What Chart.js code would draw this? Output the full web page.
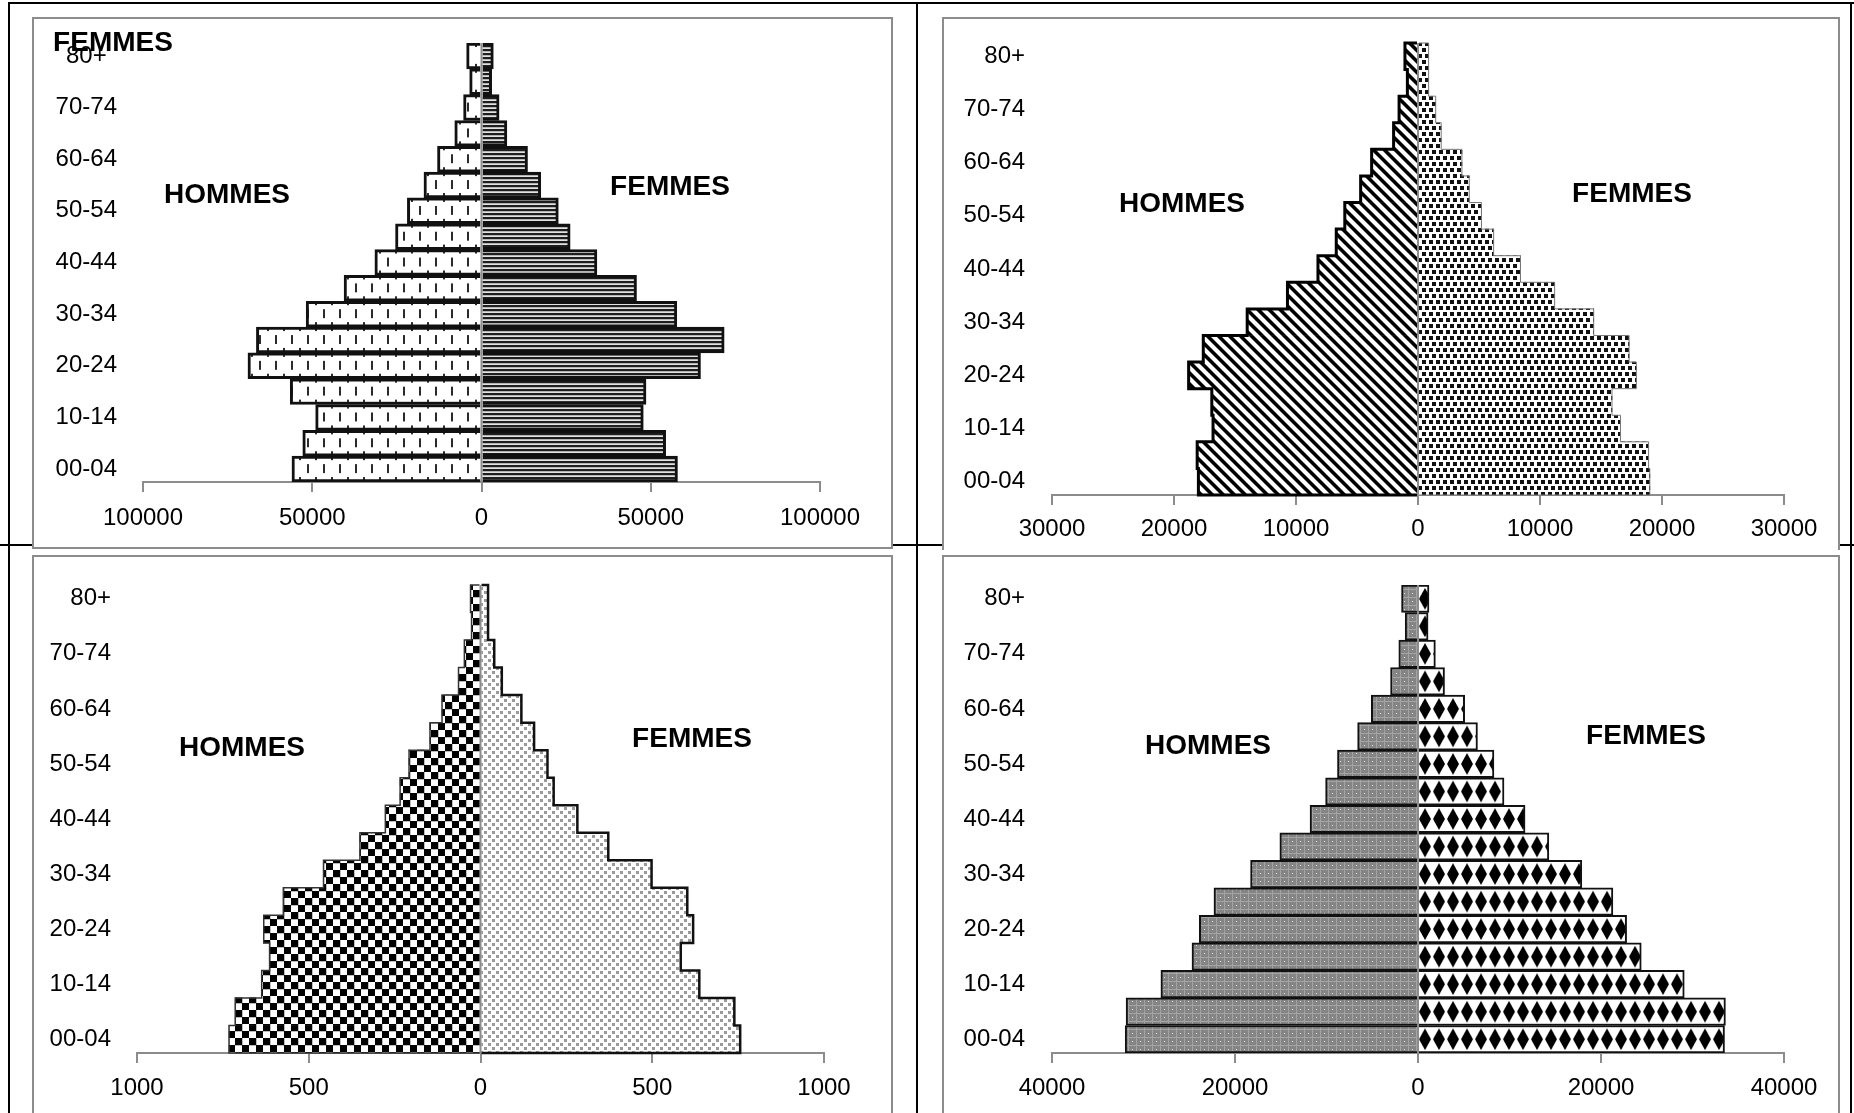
<!DOCTYPE html>
<html>
<head>
<meta charset="utf-8">
<script src="https://cdn.jsdelivr.net/npm/chart.js@4.4.1/dist/chart.umd.min.js"></script>
<style>
  body { margin: 0; background: #fff; }
  #page { position: relative; width: 1854px; height: 1113px; overflow: hidden; background: #fff; }
  .rule { position: absolute; background: #000; }
  .box { position: absolute; box-sizing: border-box; background: #fff; border: 0 solid #8c8c8c; }
  canvas { position: absolute; }
  .lbl { position: absolute; transform: translate(-50%, -50%); font: bold 28px 'Liberation Sans', Arial, sans-serif; color: #000; white-space: nowrap; z-index: 5; }
</style>
</head>
<body>
<div id="page">
  <!-- table rules -->
  <div class="rule" style="left:8px;top:2px;width:1846px;height:2px"></div>
  <div class="rule" style="left:8px;top:2px;width:2px;height:1111px"></div>
  <div class="rule" style="left:916px;top:2px;width:2px;height:1111px"></div>
  <div class="rule" style="left:1850px;top:2px;width:2px;height:1111px"></div>
  <div class="rule" style="left:0;top:544px;width:1854px;height:2px"></div>

  <!-- chart frames -->
  <div class="box" style="left:32px;top:17px;width:861px;height:532px;border-width:2px"></div>
  <div class="box" style="left:942px;top:17px;width:898px;height:533px;border-width:2px 2px 0 2px"></div>
  <div class="box" style="left:32px;top:555px;width:861px;height:558px;border-width:2px 2px 0 2px"></div>
  <div class="box" style="left:942px;top:555px;width:898px;height:558px;border-width:2px 2px 0 2px"></div>

  <canvas id="pyr1" width="861" height="532" style="left:32px;top:17px"></canvas>
  <canvas id="pyr2" width="896" height="528" style="left:942px;top:17px"></canvas>
  <canvas id="pyr3" width="861" height="558" style="left:32px;top:555px"></canvas>
  <canvas id="pyr4" width="896" height="558" style="left:942px;top:555px"></canvas>

  <div class="lbl" style="left:113px;top:42px">FEMMES</div>
  <div class="lbl" style="left:227px;top:194px">HOMMES</div>
  <div class="lbl" style="left:670px;top:186px">FEMMES</div>
  <div class="lbl" style="left:1182px;top:203px">HOMMES</div>
  <div class="lbl" style="left:1632px;top:193px">FEMMES</div>
  <div class="lbl" style="left:242px;top:747px">HOMMES</div>
  <div class="lbl" style="left:692px;top:738px">FEMMES</div>
  <div class="lbl" style="left:1208px;top:745px">HOMMES</div>
  <div class="lbl" style="left:1646px;top:735px">FEMMES</div>
</div>

<script>
// age groups, bottom (youngest) to top
var ageGroups = ['00-04', '05-09', '10-14', '15-19', '20-24', '25-29', '30-34', '35-39', '40-44',
    '45-49', '50-54', '55-59', '60-64', '65-69', '70-74', '75-79', '80+'];

// top left pyramid
var hommes1 = [56000, 52800, 49000, 56500, 69000, 66500, 51800, 40600, 31500, 25400, 21900, 17000, 13000, 7900, 5300, 3500, 4400];
var femmes1 = [57900, 54400, 47800, 48600, 64700, 71700, 57700, 45800, 34100, 26200, 22700, 17500, 13600, 7500, 5200, 3000, 3500];
var ticks1 = [-100000, -50000, 0, 50000, 100000];

// top right pyramid
var hommes2 = [18000, 18100, 16800, 16900, 18800, 17600, 14000, 10700, 8200, 6700, 6000, 4700, 3800, 2000, 1550, 870, 1070];
var femmes2 = [19000, 18900, 16600, 15900, 17900, 17300, 14400, 11200, 8400, 6200, 5200, 4200, 3600, 1900, 1450, 870, 870];
var ticks2 = [-30000, -20000, -10000, 0, 10000, 20000, 30000];

// bottom left pyramid
var hommes3 = [732, 714, 637, 614, 631, 574, 457, 351, 277, 234, 208, 147, 112, 64, 47, 26, 29];
var femmes3 = [756, 739, 637, 583, 619, 602, 498, 372, 282, 213, 195, 156, 119, 62, 40, 22, 22];
var ticks3 = [-1000, -500, 0, 500, 1000];

// bottom right pyramid
var hommes4 = [32000, 31900, 28100, 24700, 23900, 22300, 18300, 15100, 11800, 10100, 8800, 6600, 5100, 3000, 2100, 1400, 1800];
var femmes4 = [33500, 33600, 29100, 24400, 22800, 21300, 17900, 14300, 11700, 9400, 8300, 6500, 5100, 2900, 1900, 1100, 1200];
var ticks4 = [-40000, -20000, 0, 20000, 40000];

Chart.defaults.font.family = "'Liberation Sans', Arial, sans-serif";
Chart.defaults.color = '#000';

// small tiles for the hatch fills
function tile(w, h, paint) {
    var c = document.createElement('canvas');
    c.width = w;
    c.height = h;
    var g = c.getContext('2d');
    paint(g, w, h);
    return g.createPattern(c, 'repeat');
}

var dashFill = tile(16, 26, function (g, w, h) {
    g.fillStyle = '#fff'; g.fillRect(0, 0, w, h);
    g.fillStyle = '#2b2b2b';
    g.fillRect(3, 8, 2, 9);
    g.fillRect(11, 0, 2, 4);
    g.fillRect(11, 21, 2, 5);
});
var hLineFill = tile(2, 4, function (g) {
    g.fillStyle = '#1e1e1e'; g.fillRect(0, 0, 2, 2);
    g.fillStyle = '#b4b4b4'; g.fillRect(0, 2, 2, 1);
    g.fillStyle = '#e2e2e2'; g.fillRect(0, 3, 2, 1);
});
var diagFill = tile(11, 11, function (g, w, h) {
    g.fillStyle = '#fff'; g.fillRect(0, 0, w, h);
    for (var y = 0; y < h; y++) {
        for (var x = 0; x < w; x++) {
            var d = ((x - y) % 11 + 11) % 11;
            if (d < 4) { g.fillStyle = '#000'; g.fillRect(x, y, 1, 1); }
            else if (d === 4 || d === 10) { g.fillStyle = '#777'; g.fillRect(x, y, 1, 1); }
        }
    }
});
var squareDotFill = tile(7, 12, function (g, w, h) {
    g.fillStyle = '#fff'; g.fillRect(0, 0, w, h);
    g.fillStyle = '#111';
    g.fillRect(0, 1, 4, 4);
    g.fillRect(4, 7, 3, 4);
    g.fillRect(0, 7, 1, 4);
});
var checkFill = tile(14, 14, function (g, w, h) {
    g.fillStyle = '#fff'; g.fillRect(0, 0, w, h);
    g.fillStyle = '#000';
    g.fillRect(0, 0, 7, 7);
    g.fillRect(7, 7, 7, 7);
    g.fillStyle = '#bbb';
    g.fillRect(7, 0, 7, 1);
    g.fillRect(0, 7, 1, 7);
});
var fineDotFill = tile(8, 8, function (g, w, h) {
    g.fillStyle = '#fff'; g.fillRect(0, 0, w, h);
    g.fillStyle = '#9a9a9a';
    g.fillRect(0, 0, 3, 3);
    g.fillRect(4, 4, 3, 3);
});
var greyDotFill = tile(8, 8, function (g, w, h) {
    g.fillStyle = '#858585'; g.fillRect(0, 0, w, h);
    g.fillStyle = '#a4a4a4';
    g.fillRect(0, 2, 8, 1);
    g.fillRect(2, 0, 1, 8);
    g.fillStyle = '#e6e6e6';
    g.fillRect(6, 6, 1, 1);
});
var diamondFill = tile(14, 28, function (g, w, h) {
    g.fillStyle = '#fff'; g.fillRect(0, 0, w, h);
    g.fillStyle = '#000';
    g.beginPath();
    g.moveTo(7, 3); g.lineTo(13, 14); g.lineTo(7, 25); g.lineTo(1, 14);
    g.closePath();
    g.fill();
});

// keeps row-based fills in step with the bars, draws step outlines and the zero line
var pyramidPlugin = {
    id: 'pyramid',
    beforeDatasetsDraw: function (chart, args, opts) {
        var yScale = chart.scales.y;
        var rowH = Math.abs(yScale.getPixelForValue(1) - yScale.getPixelForValue(0));

        (opts.rowPatterns || []).forEach(function (p) {
            p.pattern.setTransform(new DOMMatrix().translate(0, chart.chartArea.top).scale(1, rowH / p.height));
        });
    },
    afterDatasetsDraw: function (chart, args, opts) {
        var ctx = chart.ctx;

        (opts.outlines || []).forEach(function (o) {
            var bars = chart.getDatasetMeta(o.dataset).data;

            ctx.save();
            ctx.beginPath();
            bars.forEach(function (bar, i) {
                var top = bar.y - bar.height / 2;
                var bottom = bar.y + bar.height / 2;

                if (i === 0) {
                    ctx.moveTo(bar.base, bottom);
                }
                ctx.lineTo(bar.x, bottom);
                ctx.lineTo(bar.x, top);
                if (i === bars.length - 1) {
                    ctx.lineTo(bar.base, top);
                }
            });
            ctx.lineWidth = o.width;
            ctx.strokeStyle = o.color;
            ctx.lineJoin = 'miter';
            ctx.stroke();
            ctx.restore();
        });

        if (opts.zeroLine) {
            var x0 = chart.scales.x.getPixelForValue(0);

            ctx.save();
            ctx.beginPath();
            ctx.moveTo(x0, chart.chartArea.top);
            ctx.lineTo(x0, chart.chartArea.bottom);
            ctx.lineWidth = opts.zeroLine.width;
            ctx.strokeStyle = opts.zeroLine.color;
            ctx.stroke();
            ctx.restore();
        }
    }
};

function buildPyramid(canvasId, cfg) {
    var canvas = document.getElementById(canvasId);
    var limit = cfg.ticks[cfg.ticks.length - 1];
    var font = { size: 24 };

    return new Chart(canvas, {
        type: 'bar',
        data: {
            labels: ageGroups,
            datasets: [
                {
                    label: 'HOMMES',
                    data: cfg.hommes.map(function (v) { return -v; }),
                    backgroundColor: cfg.hommesFill,
                    borderColor: cfg.barBorderColor || '#000',
                    borderWidth: cfg.barBorder || 0,
                    borderSkipped: 'start'
                },
                {
                    label: 'FEMMES',
                    data: cfg.femmes,
                    backgroundColor: cfg.femmesFill,
                    borderColor: cfg.barBorderColor || '#000',
                    borderWidth: cfg.barBorder || 0,
                    borderSkipped: 'start'
                }
            ]
        },
        options: {
            indexAxis: 'y',
            responsive: false,
            animation: false,
            layout: { padding: cfg.padding },
            datasets: { bar: { barPercentage: 1, categoryPercentage: 1 } },
            plugins: {
                legend: { display: false },
                tooltip: { enabled: false },
                pyramid: {
                    outlines: cfg.outlines,
                    rowPatterns: cfg.rowPatterns,
                    zeroLine: { color: '#8c8c8c', width: 2 }
                }
            },
            scales: {
                x: {
                    stacked: true,
                    min: -limit,
                    max: limit,
                    afterBuildTicks: function (scale) {
                        scale.ticks = cfg.ticks.map(function (v) { return { value: v }; });
                    },
                    ticks: {
                        autoSkip: false,
                        maxRotation: 0,
                        padding: cfg.xPad,
                        font: font,
                        callback: function (v) { return String(Math.abs(v)); }
                    },
                    grid: { drawOnChartArea: false, color: '#8c8c8c', lineWidth: 2, tickLength: 10 },
                    border: { color: '#8c8c8c', width: 2 },
                    afterFit: function (scale) {
                        scale.height = cfg.xHeight;
                        scale.paddingLeft = 0;
                        scale.paddingRight = 0;
                    }
                },
                y: {
                    stacked: true,
                    reverse: true,
                    ticks: {
                        autoSkip: false,
                        padding: cfg.yPad,
                        crossAlign: cfg.yAlign || 'near',
                        font: font,
                        callback: function (v, i) { return i % 2 === 0 ? this.getLabelForValue(v) : ''; }
                    },
                    grid: { display: false, drawTicks: false },
                    border: { display: false },
                    afterFit: function (scale) {
                        scale.width = cfg.yWidth;
                        scale.paddingTop = 0;
                        scale.paddingBottom = 0;
                    }
                }
            }
        },
        plugins: [pyramidPlugin]
    });
}

buildPyramid('pyr1', {
    hommes: hommes1, femmes: femmes1, ticks: ticks1,
    hommesFill: dashFill, femmesFill: hLineFill,
    barBorder: 3, barBorderColor: '#111',
    rowPatterns: [{ pattern: dashFill, height: 26 }],
    padding: { left: 0, right: 73, top: 26, bottom: 16 },
    yWidth: 111, yPad: 26, yAlign: 'center', xHeight: 51, xPad: 12
});

buildPyramid('pyr2', {
    hommes: hommes2, femmes: femmes2, ticks: ticks2,
    hommesFill: diagFill, femmesFill: squareDotFill,
    outlines: [{ dataset: 0, width: 3, color: '#000' }, { dataset: 1, width: 1, color: '#777' }],
    padding: { left: 0, right: 54, top: 26, bottom: 1 },
    yWidth: 110, yPad: 27, xHeight: 49, xPad: 10
});

buildPyramid('pyr3', {
    hommes: hommes3, femmes: femmes3, ticks: ticks3,
    hommesFill: checkFill, femmesFill: fineDotFill,
    outlines: [{ dataset: 0, width: 1.5, color: '#333' }, { dataset: 1, width: 2.5, color: '#111' }],
    padding: { left: 0, right: 69, top: 30, bottom: 10 },
    yWidth: 105, yPad: 26, xHeight: 50, xPad: 11
});

buildPyramid('pyr4', {
    hommes: hommes4, femmes: femmes4, ticks: ticks4,
    hommesFill: greyDotFill, femmesFill: diamondFill,
    barBorder: 2, barBorderColor: '#111',
    rowPatterns: [{ pattern: diamondFill, height: 28 }],
    padding: { left: 0, right: 54, top: 30, bottom: 10 },
    yWidth: 110, yPad: 27, xHeight: 50, xPad: 11
});
</script>
</body>
</html>
